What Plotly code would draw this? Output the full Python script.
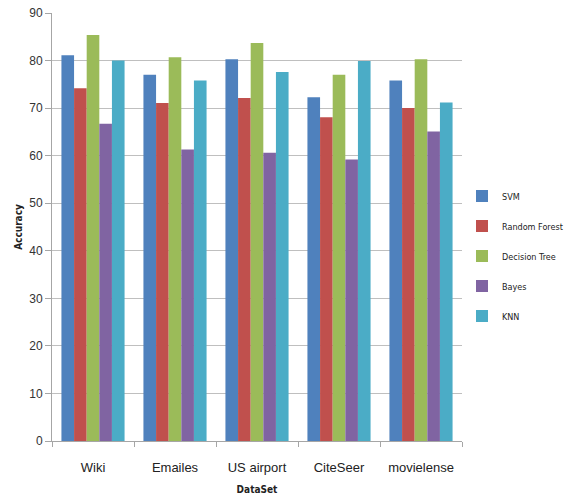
import plotly.graph_objects as go

categories = ["Wiki", "Emailes", "US airport", "CiteSeer", "movielense"]
svm = [81.1, 77.0, 80.3, 72.3, 75.8]
random_forest = [74.2, 71.1, 72.1, 68.1, 70.0]
decision_tree = [85.4, 80.7, 83.7, 77.0, 80.3]
bayes = [66.7, 61.3, 60.6, 59.2, 65.1]
knn = [80.0, 75.8, 77.6, 79.9, 71.2]

series = [
    ("SVM", svm, "#4F81BD"),
    ("Random Forest", random_forest, "#C0504D"),
    ("Decision Tree", decision_tree, "#9BBB59"),
    ("Bayes", bayes, "#8064A2"),
    ("KNN", knn, "#4BACC6"),
]

font_main = "Liberation Sans Narrow, Liberation Sans, Arial, sans-serif"

fig = go.Figure()
for name, vals, color in series:
    fig.add_trace(go.Bar(
        x=categories, y=vals, name=name, legendgroup=name,
        marker=dict(color=color, line=dict(width=0)),
    ))

fig.update_layout(
    width=569, height=497,
    margin=dict(l=52, r=107, t=13, b=56, autoexpand=False),
    paper_bgcolor="white", plot_bgcolor="white",
    barmode="group", bargap=0.23, bargroupgap=0,
    font=dict(family=font_main, size=12, color="#333333"),
    legend=dict(
        x=1.0, y=0.432, xanchor="left", yanchor="middle",
        bgcolor="rgba(0,0,0,0)",
        font=dict(size=9, family="DejaVu Sans Condensed, Liberation Sans Narrow, sans-serif", color="#222"),
        tracegroupgap=11, itemwidth=30,
    ),
    xaxis=dict(
        showline=True, linecolor="#A6A6A6", linewidth=1,
        ticks="outside", tickson="boundaries", ticklen=5, tickcolor="#A6A6A6",
        ticklabelstandoff=14,
        tickfont=dict(size=13, family=font_main, color="#222"),
        title=dict(text="<b>DataSet</b>", font=dict(size=10, family="DejaVu Sans Condensed, sans-serif", color="#222"), standoff=12),
    ),
    yaxis=dict(
        range=[0, 90], dtick=10,
        showline=True, linecolor="#A6A6A6", linewidth=1,
        showgrid=True, gridcolor="#BFBFBF", gridwidth=1,
        ticks="outside", ticklen=6, tickcolor="#A6A6A6",
        tickfont=dict(size=12, family=font_main, color="#333"),
        title=dict(text="<b>Accuracy</b>", font=dict(size=10, family="DejaVu Sans Condensed, sans-serif", color="#222"), standoff=4),
        zeroline=False,
    ),
)

fig.write_html("out.html")
